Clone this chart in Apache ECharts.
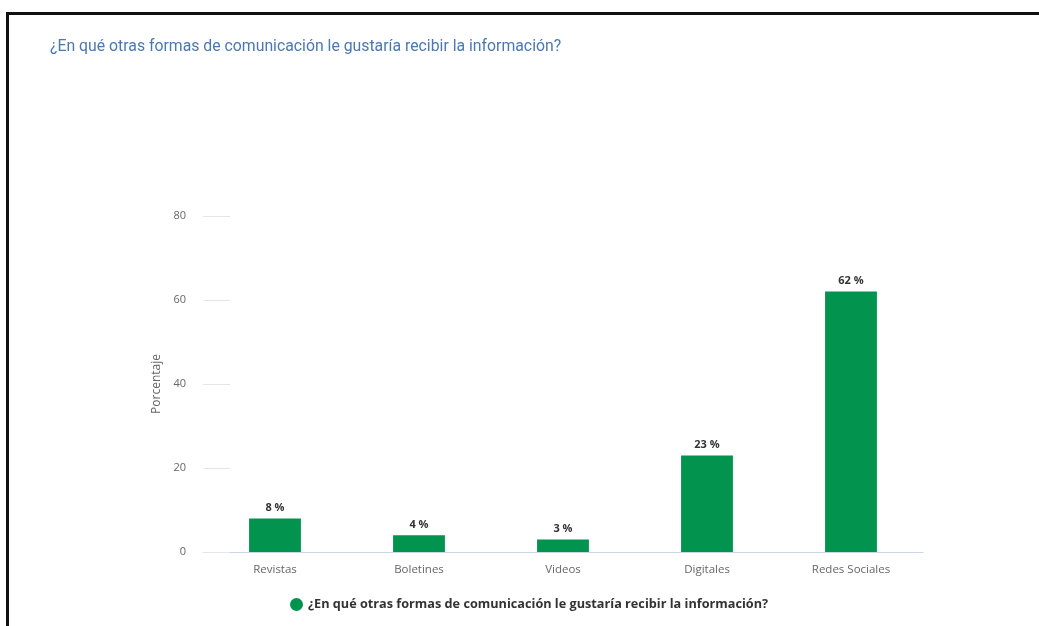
<!DOCTYPE html>
<html>
<head>
<meta charset="utf-8">
<script src="https://cdn.jsdelivr.net/npm/echarts@6/dist/echarts.min.js"></script>
<style>
  html, body { margin: 0; padding: 0; background: #fff; }
  #frame {
    position: absolute; left: 6px; top: 12px; right: -10px; bottom: -10px;
    border-top: 3px solid #111; border-left: 3px solid #111;
  }
  #chart { position: absolute; left: 0; top: 0; width: 1039px; height: 626px; }
</style>
</head>
<body>
<div id="frame"></div>
<div id="chart"></div>
<script>
// Survey answers: preferred communication channels (percent)
const titleText = '¿En qué otras formas de comunicación le gustaría recibir la información?';
const categories = ['Revistas', 'Boletines', 'Videos', 'Digitales', 'Redes Sociales'];
const percentages = [8, 4, 3, 23, 62];
const yTicks = [0, 20, 40, 60, 80];

const chart = echarts.init(document.getElementById('chart'), null, { renderer: 'canvas' });

chart.setOption({
  backgroundColor: 'transparent',
  animation: false,
  title: {
    text: titleText,
    left: 45,
    top: 34,
    textStyle: {
      fontFamily: 'Roboto',
      fontSize: 15.8,
      fontWeight: 'normal',
      color: '#4a78b4'
    }
  },
  legend: {
    bottom: 10,
    left: 285,
    icon: 'circle',
    itemWidth: 13,
    itemHeight: 13,
    itemGap: 6,
    data: [titleText],
    textStyle: {
      fontFamily: 'Open Sans',
      fontSize: 12.7,
      fontWeight: 'bold',
      color: '#333'
    }
  },
  grid: { left: 203, right: 116, top: 216, bottom: 74 },
  xAxis: {
    type: 'category',
    data: categories,
    axisLine: { lineStyle: { color: '#ccd6eb', width: 1 } },
    axisTick: { show: false },
    axisLabel: {
      margin: 12,
      fontFamily: 'Open Sans',
      fontSize: 11.5,
      color: '#666'
    }
  },
  yAxis: {
    type: 'value',
    min: yTicks[0],
    max: yTicks[yTicks.length - 1],
    interval: 20,
    name: 'Porcentaje',
    nameLocation: 'middle',
    nameGap: 40,
    nameTextStyle: { fontFamily: 'Open Sans', fontSize: 12, color: '#666' },
    axisLine: { show: false },
    axisTick: { show: true, inside: true, length: 27, lineStyle: { color: '#e6e6e6' } },
    splitLine: { show: false },
    axisLabel: {
      margin: 17,
      fontFamily: 'Open Sans',
      fontSize: 11,
      color: '#666'
    }
  },
  series: [{
    name: titleText,
    type: 'bar',
    data: percentages,
    barWidth: '36%',
    itemStyle: { color: '#02934e' },
    label: {
      show: true,
      position: 'top',
      distance: 5,
      formatter: '{c} %',
      fontFamily: 'Open Sans',
      fontSize: 11,
      fontWeight: 'bold',
      color: '#333'
    }
  }]
});
</script>
</body>
</html>
